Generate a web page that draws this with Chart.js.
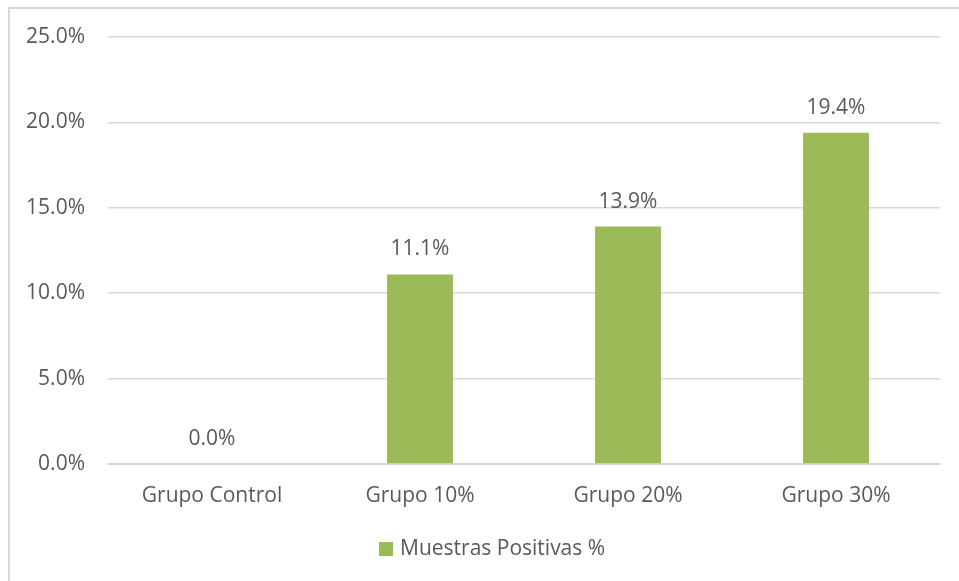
<!DOCTYPE html>
<html>
<head>
<meta charset="utf-8">
<script src="https://cdn.jsdelivr.net/npm/chart.js@4/dist/chart.umd.min.js"></script>
<style>
  html, body { margin: 0; padding: 0; background: #ffffff; }
  #wrap { position: relative; width: 959px; height: 581px; }
  canvas { display: block; }
</style>
</head>
<body>
<div id="wrap"><canvas id="c" width="959" height="581"></canvas></div>
<script>
// Share of positive samples per group (%)
const categories = ['Grupo Control', 'Grupo 10%', 'Grupo 20%', 'Grupo 30%'];
const positivos = [0.0, 11.1, 13.9, 19.4];
const seriesName = 'Muestras Positivas %';
const yMin = 0, yMax = 25, yStep = 5;

const textColor = '#595959';
const gridColor = '#d9d9d9';
const barColor = '#9bbb59';
const fontFamily = "'Open Sans', 'Noto Sans', sans-serif";
const fontSize = 21;

// Light frame along the top and left edges of the chart
const framePlugin = {
  id: 'frame',
  beforeDraw(chart) {
    const ctx = chart.ctx;
    ctx.save();
    ctx.fillStyle = '#d9d9d9';
    ctx.fillRect(8, 7, 2, chart.height - 7);
    ctx.fillRect(8, 7, chart.width - 8, 2);
    ctx.restore();
  }
};

// Value labels above each bar
const valueLabels = {
  id: 'valueLabels',
  afterDatasetsDraw(chart) {
    const ctx = chart.ctx;
    const meta = chart.getDatasetMeta(0);
    ctx.save();
    ctx.font = fontSize + 'px ' + fontFamily;
    ctx.fillStyle = textColor;
    ctx.textAlign = 'center';
    ctx.textBaseline = 'middle';
    meta.data.forEach((bar, i) => {
      const v = chart.data.datasets[0].data[i];
      ctx.fillText(v.toFixed(1) + '%', bar.x, bar.y - 25);
    });
    ctx.restore();
  }
};

// Single-entry legend below the category labels
const bottomLegend = {
  id: 'bottomLegend',
  afterDraw(chart) {
    const ctx = chart.ctx;
    const ds = chart.data.datasets[0];
    const box = 14, gap = 7;
    ctx.save();
    ctx.font = fontSize + 'px ' + fontFamily;
    const tw = ctx.measureText(ds.label).width;
    const total = box + gap + tw;
    const cx = chart.width / 2 + 13;
    const cy = chart.chartArea.bottom + 85;
    const x0 = Math.round(cx - total / 2);
    ctx.fillStyle = ds.backgroundColor;
    ctx.fillRect(x0, Math.round(cy - box / 2), box, box);
    ctx.fillStyle = textColor;
    ctx.textAlign = 'left';
    ctx.textBaseline = 'middle';
    ctx.fillText(ds.label, x0 + box + gap, cy);
    ctx.restore();
  }
};

new Chart(document.getElementById('c'), {
  type: 'bar',
  data: {
    labels: categories,
    datasets: [{
      label: seriesName,
      data: positivos,
      backgroundColor: barColor,
      borderWidth: 0,
      categoryPercentage: 1.0,
      barPercentage: 0.317
    }]
  },
  options: {
    responsive: false,
    animation: false,
    devicePixelRatio: 1,
    layout: { padding: { left: 0, right: 19, top: 37, bottom: 53 } },
    plugins: {
      tooltip: { enabled: false },
      legend: { display: false }
    },
    scales: {
      x: {
        grid: { display: false, drawTicks: false },
        border: { display: true, color: gridColor, width: 2 },
        ticks: {
          color: textColor,
          padding: 19,
          font: { size: fontSize, family: fontFamily }
        },
        afterFit(scale) { scale.height = 64; }
      },
      y: {
        min: yMin,
        max: yMax,
        grid: { color: gridColor, lineWidth: 1.5, drawTicks: false },
        border: { display: false },
        ticks: {
          stepSize: yStep,
          color: textColor,
          padding: 23,
          font: { size: fontSize, family: fontFamily },
          callback: v => v.toFixed(1) + '%'
        },
        afterFit(scale) { scale.width = 108; }
      }
    }
  },
  plugins: [framePlugin, valueLabels, bottomLegend]
});
</script>
</body>
</html>
